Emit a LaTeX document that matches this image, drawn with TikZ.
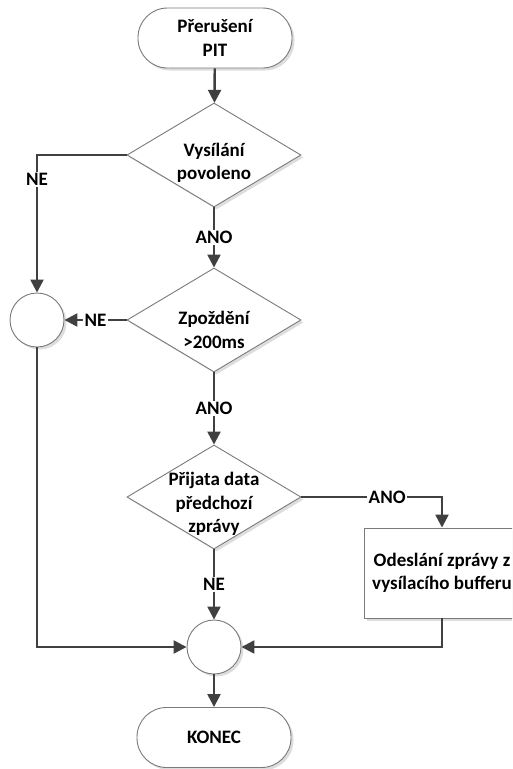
\documentclass[tikz,border=0pt]{standalone}
\usepackage{fontspec}
\setmainfont{Carlito}
\usetikzlibrary{shapes.geometric,arrows.meta,shadows}

\definecolor{linegray}{HTML}{404040}
\definecolor{bordergray}{HTML}{7A7A7A}

\tikzset{
  txt/.style={align=center, font=\fontsize{19}{23.5}\selectfont\bfseries, inner sep=0pt},
  base/.style={draw=bordergray, line width=0.9pt, fill=white, txt,
    drop shadow={opacity=0.22, shadow xshift=2.5pt, shadow yshift=-2.5pt, fill=black!60}},
  terminal/.style={base, rectangle, rounded corners=29.5pt, minimum width=154pt, minimum height=60pt},
  decision/.style={base, diamond, minimum width=174pt, minimum height=104pt},
  process/.style={base, rectangle, minimum width=156pt, minimum height=90pt},
  joint/.style={base, circle, minimum size=54pt},
  flow/.style={draw=linegray, line width=2.4pt, -{Triangle[length=13pt,width=13pt]}, color=linegray},
  lbl/.style={fill=white, inner sep=1.5pt, text=black, font=\fontsize{19}{21}\selectfont\bfseries}
}

\begin{document}
\begin{tikzpicture}[x=1pt, y=-1pt]
  \useasboundingbox (0,0) rectangle (512,769);
  \clip (0,0) rectangle (512,769);

  % shapes
  \node[terminal] (start) at (215,38) {Přerušení\\PIT};
  \node[decision] (d1) at (214,155) {};
  \node[decision] (d2) at (214,320) {};
  \node[decision] (d3) at (214,497) {};
  \node[joint] (c1) at (37,320) {};
  \node[process] (send) at (442,573) {Odeslání zprávy z\\vysílacího bufferu};
  \node[joint] (c2) at (214,647) {};
  \node[terminal] (stop) at (214,737.5) {KONEC};

  % decision texts sit slightly below the diamond centres
  \node[txt] (d1text) at ([yshift=-8pt]d1.center) {Vysílání\\povoleno};
  \node[txt] (d2text) at ([yshift=-10pt]d2.center) {Zpoždění\\>200ms};
  \node[txt] (d3text) at ([yshift=-7pt]d3.center) {Přijata data\\předchozí\\zprávy};

  % connectors
  \draw[flow] (start) -- (d1);
  \draw[flow] (d1) -- node[lbl] {ANO} (d2);
  \draw[flow] (d2) -- node[lbl] {ANO} (d3);
  \draw[flow] (d1.west) -| node[lbl, pos=0.59] {NE} (c1);
  \draw[flow] (d2.west) -- node[lbl] {NE} (c1);
  \draw[flow] (d3) -- node[lbl] {NE} (c2);
  \draw[flow] (d3.east) -| node[lbl, pos=0.305] {ANO} (send);
  \draw[flow] (c1) |- (c2);
  \draw[flow] (send) |- (c2);
  \draw[flow] (c2) -- (stop);
\end{tikzpicture}
\end{document}
